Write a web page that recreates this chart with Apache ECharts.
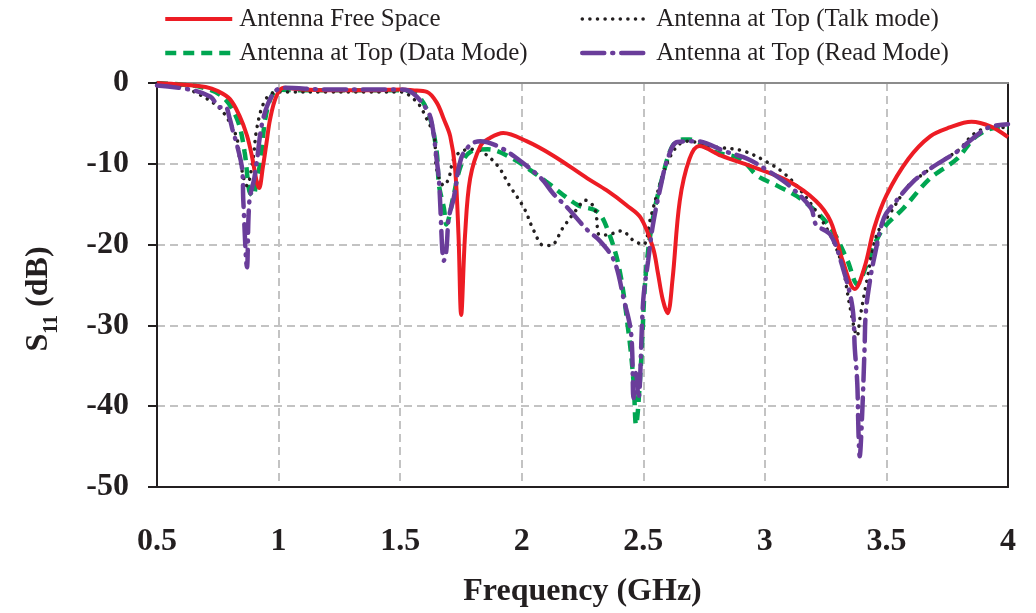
<!DOCTYPE html>
<html>
<head>
<meta charset="utf-8">
<script src="https://cdn.jsdelivr.net/npm/echarts@6/dist/echarts.min.js"></script>
<style>
html,body{margin:0;padding:0;background:#fff;}
#c{width:1036px;height:613px;}
</style>
</head>
<body>
<div id="c"></div>
<script>
// ---- Data ----
var seriesNames = ['Antenna Free Space', 'Antenna at Top (Talk mode)', 'Antenna at Top (Data Mode)', 'Antenna at Top (Read Mode)'];
var xTicks = [0.5, 1, 1.5, 2, 2.5, 3, 3.5, 4];
var yTicks = [0, -10, -20, -30, -40, -50];

var freeFreq = [0.5, 0.6, 0.7, 0.75, 0.8, 0.84, 0.87, 0.89, 0.91, 0.92, 0.935, 0.95, 0.965, 0.99, 1.02, 1.1, 1.2, 1.3, 1.4, 1.5, 1.55, 1.61, 1.65, 1.68, 1.706, 1.726, 1.74, 1.751, 1.767, 1.788, 1.83, 1.87, 1.924, 2.02, 2.13, 2.27, 2.35, 2.43, 2.49, 2.54, 2.56, 2.58, 2.6, 2.62, 2.65, 2.69, 2.73, 2.82, 2.97, 3.1, 3.21, 3.27, 3.32, 3.37, 3.41, 3.45, 3.5, 3.59, 3.68, 3.76, 3.85, 3.93, 4.0];
var freeS11 = [0, -0.2, -0.5, -1, -2, -4.1, -6.5, -9, -12.2, -13, -10.5, -7.5, -4.5, -1.7, -0.6, -0.8, -0.9, -0.9, -0.9, -0.8, -0.9, -1.1, -2.4, -4.5, -6.6, -10.6, -18.8, -28.7, -18.8, -11.8, -7.8, -6.8, -6.2, -7.2, -9, -11.8, -13.3, -15.1, -16.7, -20.4, -23.5, -26.8, -28.5, -24.4, -14.6, -9.4, -7.8, -9, -10.6, -12.2, -14.6, -17.1, -22, -25.5, -22.8, -17.9, -13.9, -9.4, -6.6, -5.5, -4.8, -5.4, -6.7];

var talkFreq = [0.5, 0.6, 0.66, 0.75, 0.8, 0.83, 0.84, 0.87, 0.895, 0.91, 0.94, 0.98, 1.05, 1.2, 1.35, 1.5, 1.57, 1.61, 1.64, 1.65, 1.68, 1.7, 1.72, 1.75, 1.79, 1.83, 1.9, 1.95, 2.01, 2.05, 2.09, 2.12, 2.17, 2.23, 2.26, 2.3, 2.32, 2.35, 2.41, 2.46, 2.5, 2.53, 2.56, 2.6, 2.64, 2.68, 2.79, 2.91, 3.01, 3.08, 3.15, 3.22, 3.28, 3.32, 3.35, 3.38, 3.39, 3.42, 3.46, 3.52, 3.59, 3.64, 3.72, 3.8, 3.86, 3.93, 4.0];
var talkS11 = [0, -0.5, -1.2, -2.9, -4.9, -7, -9.4, -12.7, -9.4, -5.7, -2.4, -1.2, -1.1, -1.1, -1.1, -1.1, -2.4, -4.5, -6.6, -10.6, -12.7, -11.8, -9.4, -8.5, -8.2, -8.4, -10.2, -12.7, -15.5, -18.3, -20.1, -20.1, -17.9, -15.5, -14.5, -15.5, -18.8, -18.8, -18.3, -19.5, -20, -16.7, -13.4, -9.8, -7.8, -7.2, -7.9, -8.4, -9.8, -11.2, -13.4, -16.3, -19.5, -22.8, -27.7, -31.3, -29.3, -24.4, -18.8, -15.9, -12.7, -11.5, -9.8, -8.2, -6.3, -5.5, -5.5];

var dataFreq = [0.5, 0.6, 0.68, 0.77, 0.83, 0.86, 0.88, 0.895, 0.91, 0.925, 0.945, 0.97, 1.0, 1.1, 1.2, 1.3, 1.4, 1.5, 1.57, 1.62, 1.65, 1.66, 1.68, 1.69, 1.72, 1.75, 1.79, 1.86, 1.965, 2.1, 2.23, 2.31, 2.35, 2.4, 2.44, 2.46, 2.47, 2.49, 2.51, 2.54, 2.58, 2.62, 2.66, 2.69, 2.79, 2.9, 2.97, 3.05, 3.16, 3.27, 3.34, 3.38, 3.42, 3.48, 3.57, 3.68, 3.79, 3.87, 3.96, 4.0];
var dataS11 = [0, -0.2, -0.5, -1.7, -4.5, -8.5, -13.4, -14, -12, -9.8, -4.5, -1.7, -0.85, -0.9, -0.9, -0.9, -0.9, -0.9, -1.5, -4.1, -8.5, -12.7, -15.5, -17.5, -13.9, -10.2, -8.5, -8.2, -9.4, -12.2, -15.1, -15.9, -17.9, -22.8, -31, -37, -42.3, -35, -23.7, -16.7, -11.5, -7.8, -7, -7, -8.5, -9.4, -11.5, -12.7, -14.6, -17.9, -22, -24.9, -22.4, -18.3, -15.5, -11.8, -9.4, -6.6, -5.5, -5.5];

var readFreq = [0.5, 0.64, 0.72, 0.76, 0.78, 0.8, 0.81, 0.83, 0.85, 0.855, 0.87, 0.88, 0.9, 0.91, 0.936, 0.98, 1.02, 1.2, 1.4, 1.5, 1.55, 1.61, 1.63, 1.65, 1.66, 1.68, 1.69, 1.70, 1.72, 1.75, 1.79, 1.83, 1.9, 1.97, 2.08, 2.13, 2.19, 2.27, 2.32, 2.38, 2.42, 2.45, 2.46, 2.47, 2.48, 2.5, 2.52, 2.54, 2.57, 2.6, 2.64, 2.72, 2.84, 2.93, 3.02, 3.1, 3.19, 3.21, 3.27, 3.32, 3.36, 3.37, 3.38, 3.385, 3.39, 3.40, 3.41, 3.415, 3.43, 3.45, 3.49, 3.54, 3.61, 3.68, 3.79, 3.85, 3.92, 4.0];
var readS11 = [-0.3, -0.85, -1.7, -3, -2.9, -4.5, -5.7, -7.8, -10.6, -14.6, -22.8, -14.6, -11.8, -9.8, -4.5, -1.2, -0.6, -0.8, -0.8, -0.8, -1.2, -3.3, -4.9, -9.4, -12.2, -22, -20.7, -16.7, -14.3, -9.4, -7.6, -7.2, -7.8, -9.1, -11.8, -13.7, -15.5, -18.2, -19.5, -22, -26.8, -31, -39, -35.9, -39, -26.8, -22, -17.5, -13, -9.4, -7.3, -7.2, -8.5, -9.4, -11, -12.7, -15.5, -17.5, -18.8, -22.8, -27.7, -32.9, -37.1, -43.2, -46.2, -41.1, -32.9, -28.5, -24.9, -21.6, -16.7, -14.6, -12.2, -10.6, -8.5, -7, -5.5, -5.1];

function zip(a, b) { return a.map(function (v, i) { return [v, b[i]]; }); }

var FONT = "'Liberation Serif', 'Times New Roman', serif";
var INK = '#231f20';
var styles = {
  free: { color: '#ed1c24', width: 4 },
  talk: { color: INK, width: 3.5, type: [0.1, 7.5], cap: 'round' },
  data: { color: '#00a651', width: 4.5, type: [11, 7] },
  read: { color: '#6a3d9a', width: 4.5, type: [22, 8, 1, 8], cap: 'round' }
};
function legendItem(name, ls) {
  return { name: name, itemStyle: { opacity: 0, borderWidth: 0 }, lineStyle: ls };
}
var legendBase = {
  orient: 'vertical', top: 6, itemGap: 8, padding: 0,
  itemWidth: 67, itemHeight: 14,
  itemStyle: { opacity: 0, borderWidth: 0 },
  textStyle: { fontFamily: FONT, fontSize: 25, color: INK, lineHeight: 26, padding: [0, 0, 0, 2] }
};

var chart = echarts.init(document.getElementById('c'));
chart.setOption({
  animation: false,
  backgroundColor: '#fff',
  grid: { left: 157, right: 28, top: 83, bottom: 120, containLabel: false },
  legend: [
    Object.assign({}, legendBase, {
      left: 163,
      data: [legendItem(seriesNames[0], styles.free), legendItem(seriesNames[2], styles.data)]
    }),
    Object.assign({}, legendBase, {
      left: 580,
      data: [legendItem(seriesNames[1], styles.talk), legendItem(seriesNames[3], styles.read)]
    })
  ],
  xAxis: [
    {
      type: 'value', min: 0.5, max: 4, interval: 0.5,
      name: 'Frequency (GHz)', nameLocation: 'middle', nameGap: 89,
      nameTextStyle: { fontFamily: FONT, fontSize: 32, fontWeight: 'bold', color: INK },
      axisLine: { show: true, onZero: false, lineStyle: { color: INK, width: 2 } },
      axisTick: { show: false },
      axisLabel: { margin: 39, fontFamily: FONT, fontSize: 32, fontWeight: 'bold', color: INK,
        customValues: xTicks },
      splitLine: { show: true, lineStyle: { color: '#c3c3c3', width: 2, type: [8, 5] } }
    },
    {
      type: 'value', min: 0.5, max: 4, position: 'top',
      axisLine: { show: true, lineStyle: { color: '#8c8c8c', width: 2 } },
      axisTick: { show: false }, axisLabel: { show: false }, splitLine: { show: false }
    }
  ],
  yAxis: [
    {
      type: 'value', min: -50, max: 0, interval: 10,
      name: '{a|S}{b|11}{a| (dB)}', nameLocation: 'middle', nameGap: 102, nameRotate: 90,
      nameTextStyle: {
        fontFamily: FONT, fontSize: 32, fontWeight: 'bold', color: INK, padding: [0, 28, 0, 0],
        rich: {
          a: { fontFamily: FONT, fontSize: 32, fontWeight: 'bold', color: INK, lineHeight: 36, verticalAlign: 'bottom' },
          b: { fontFamily: FONT, fontSize: 20, fontWeight: 'bold', color: INK, lineHeight: 36, verticalAlign: 'bottom', padding: [0, 0, -7, 0] }
        }
      },
      axisLine: { show: true, onZero: false, lineStyle: { color: INK, width: 2 } },
      axisTick: { show: true, inside: false, length: 9, lineStyle: { color: INK, width: 2 } },
      axisLabel: { margin: 28, padding: [8, 0, 0, 0], fontFamily: FONT, fontSize: 32, fontWeight: 'bold', color: INK,
        customValues: yTicks },
      splitLine: { show: true, lineStyle: { color: '#c3c3c3', width: 2, type: [8, 5] } }
    },
    {
      type: 'value', min: -50, max: 0, position: 'right',
      axisLine: { show: true, onZero: false, lineStyle: { color: INK, width: 2 } },
      axisTick: { show: false }, axisLabel: { show: false }, splitLine: { show: false }
    }
  ],
  series: [
    {
      name: seriesNames[0], type: 'line', data: zip(freeFreq, freeS11),
      symbol: 'none', smooth: 0.35, z: 5,
      lineStyle: styles.free, itemStyle: { color: styles.free.color }
    },
    {
      name: seriesNames[1], type: 'line', data: zip(talkFreq, talkS11),
      symbol: 'none', smooth: 0.35, z: 4,
      lineStyle: styles.talk, itemStyle: { color: styles.talk.color }
    },
    {
      name: seriesNames[2], type: 'line', data: zip(dataFreq, dataS11),
      symbol: 'none', smooth: 0.35, z: 3,
      lineStyle: styles.data, itemStyle: { color: styles.data.color }
    },
    {
      name: seriesNames[3], type: 'line', data: zip(readFreq, readS11),
      symbol: 'none', smooth: 0.35, z: 6,
      lineStyle: styles.read, itemStyle: { color: styles.read.color }
    }
  ]
});
</script>
</body>
</html>
